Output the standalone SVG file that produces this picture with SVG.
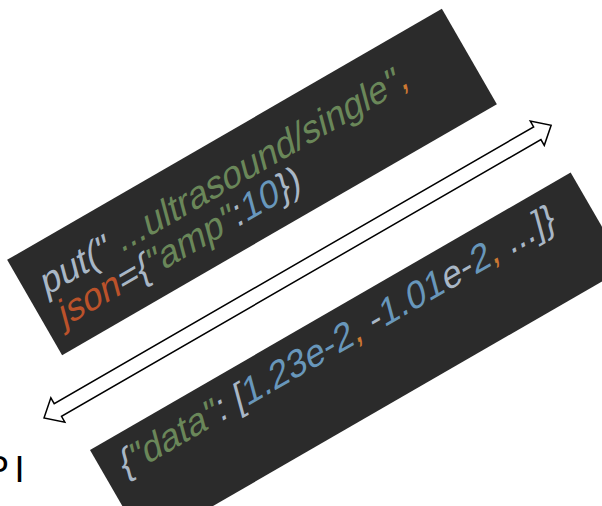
<svg xmlns="http://www.w3.org/2000/svg" width="602" height="506" viewBox="0 0 602 506">
  <style>
    .panel { fill: #2b2b2b; }
    .code { font-family: "Liberation Sans", Arial, sans-serif; font-size: 37px; fill: #a9b7c6; }
    .str { fill: #6a8759; }
    .num { fill: #6897bb; }
    .punc { fill: #cc7832; }
    .arg { fill: #bb522a; }
    .label { font-family: "Liberation Sans", Arial, sans-serif; font-size: 36px; fill: #000000; }
    .conn { fill: #ffffff; stroke: #000000; stroke-width: 1.5; stroke-linejoin: miter; }
  </style>

  <rect width="602" height="506" fill="#ffffff"/>

  <!-- request panel: rotated card, code lines set oblique -->
  <g id="request" transform="translate(252,182) rotate(-30)">
    <rect class="panel" x="-251" y="-55" width="502" height="110"/>
    <g transform="translate(-236,-4) skewX(-15)">
      <text class="code" x="0" y="0">put("<tspan class="str"> ...ultrasound/single"</tspan><tspan class="punc">,</tspan></text>
    </g>
    <g transform="translate(-236,32) skewX(-15)">
      <text class="code" x="0" y="0"><tspan class="arg">json</tspan>={<tspan class="str">"amp"</tspan>:<tspan class="num">10</tspan>})</text>
    </g>
  </g>

  <!-- response panel -->
  <g id="response" transform="translate(90,450) rotate(-30)">
    <rect class="panel" x="0" y="0" width="555" height="110"/>
    <g transform="translate(16,41) skewX(-15)">
      <text class="code" x="0" y="0">{<tspan class="str">"data"</tspan>: [<tspan class="num">1.23e-2</tspan><tspan class="punc">,</tspan> -<tspan class="num">1.01</tspan>e-<tspan class="num">2</tspan><tspan class="punc">,</tspan> ...]}</text>
    </g>
  </g>

  <!-- API label, running off the left edge -->
  <g id="api">
    <text class="label" x="-15 14.6" y="482">PI</text>
  </g>

  <!-- connectors -->
  <g id="connectors">
    <polygon class="conn" transform="translate(44,418) rotate(-30)"
      points="0,0 16,-14 16,-7.3 569.6,-7.3 569.6,-14 585.6,0 569.6,14 569.6,7.3 16,7.3 16,14"/>
  </g>
</svg>
